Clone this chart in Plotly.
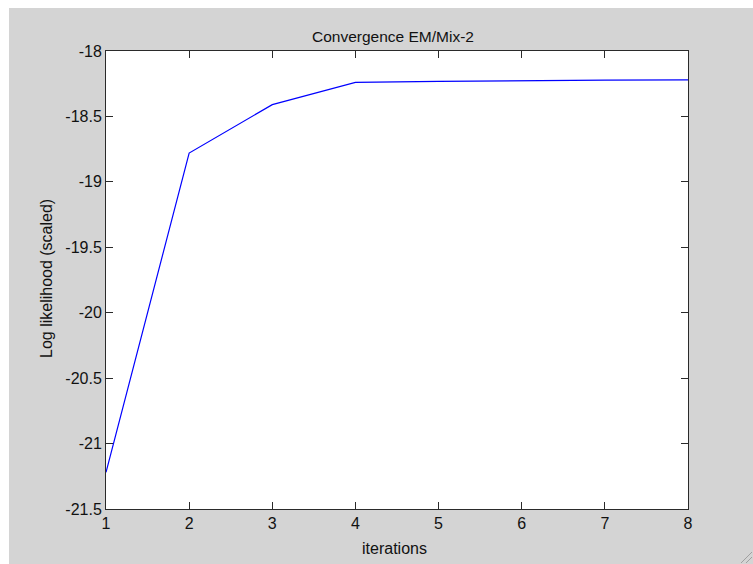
import plotly.graph_objects as go

iterations = [1, 2, 3, 4, 5, 6, 7, 8]
loglik = [-21.22, -18.78, -18.41, -18.24, -18.232, -18.226, -18.222, -18.22]

y_tickvals = [-21.5, -21, -20.5, -20, -19.5, -19, -18.5, -18]
y_ticktext = ["-21.5", "-21", "-20.5", "-20", "-19.5", "-19", "-18.5", "-18"]
x_tickvals = [1, 2, 3, 4, 5, 6, 7, 8]
x_ticktext = ["1", "2", "3", "4", "5", "6", "7", "8"]

W, H = 753, 564
L, R, T, B = 106, 65, 51, 55
pw, ph = W - L - R, H - T - B

def px(x):
    return (x - L) / pw

def py(y):
    return (H - B - y) / ph

grey = "#d4d4d4"
font = "Liberation Sans, Arial, sans-serif"

fig = go.Figure()
fig.add_trace(go.Scatter(x=iterations, y=loglik, mode="lines",
                         line=dict(color="#0000ff", width=1.2), hoverinfo="skip"))

axis_common = dict(showgrid=False, zeroline=False, showline=True, linecolor="#2a2a2a",
                   linewidth=1, mirror="allticks", ticks="inside", ticklen=7,
                   tickcolor="#2a2a2a", tickwidth=1,
                   tickfont=dict(family=font, size=16, color="#111"))

fig.update_layout(
    width=W, height=H,
    margin=dict(l=L, r=R, t=T, b=B, pad=0),
    paper_bgcolor=grey, plot_bgcolor="white",
    showlegend=False,
    xaxis=dict(range=[1, 8], tickvals=x_tickvals, ticktext=x_ticktext, **axis_common),
    yaxis=dict(range=[-21.5, -18], tickvals=y_tickvals, ticktext=y_ticktext, **axis_common),
    shapes=[
        dict(type="rect", xref="paper", yref="paper", x0=px(-5), x1=px(9), y0=py(H + 5), y1=py(-5),
             fillcolor="white", line=dict(width=0), layer="below"),
        dict(type="rect", xref="paper", yref="paper", x0=px(-5), x1=px(W + 5), y0=py(8), y1=py(-5),
             fillcolor="white", line=dict(width=0), layer="below"),
        dict(type="line", xref="paper", yref="paper", x0=px(W - 12), x1=px(W - 1), y0=py(H - 1), y1=py(H - 12),
             line=dict(color="#a0a0a0", width=1)),
        dict(type="line", xref="paper", yref="paper", x0=px(W - 7), x1=px(W - 1), y0=py(H - 1), y1=py(H - 7),
             line=dict(color="#a0a0a0", width=1)),
    ],
    annotations=[
        dict(text="Convergence EM/Mix-2", xref="paper", yref="paper", x=px(393), y=py(36),
             xanchor="center", yanchor="middle", showarrow=False,
             font=dict(family=font, size=15.5, color="#111")),
        dict(text="iterations", xref="paper", yref="paper", x=px(394), y=py(548),
             xanchor="center", yanchor="middle", showarrow=False,
             font=dict(family=font, size=16, color="#111")),
        dict(text="Log likelihood (scaled)", xref="paper", yref="paper", x=px(46), y=py(279),
             xanchor="center", yanchor="middle", showarrow=False, textangle=-90,
             font=dict(family=font, size=16, color="#111")),
    ],
)

fig.write_html("out.html")
